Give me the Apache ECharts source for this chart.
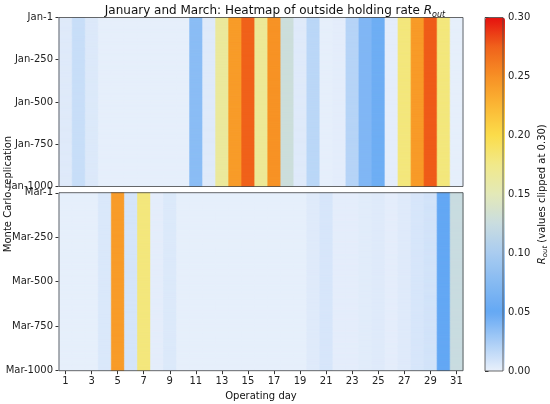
<!DOCTYPE html>
<html lang="en">
<head>
    <meta charset="UTF-8">
    <script src="https://cdn.jsdelivr.net/npm/echarts@6/dist/echarts.min.js"></script>
    <title>Heatmap of outside holding rate</title>
    <style>
        html, body {margin: 0; padding: 0; background: #fff;}
    </style>
</head>
<body>

<div id="ec" style="width:550px;height:404px;"></div>

<script>
    // operating days (x categories)
    var days = ['1', '2', '3', '4', '5', '6', '7', '8', '9', '10', '11', '12', '13', '14', '15', '16',
        '17', '18', '19', '20', '21', '22', '23', '24', '25', '26', '27', '28', '29', '30', '31'];

    // typical R_out per operating day
    var janRate = [0.004, 0.013, 0.005, 0.001, 0.001, 0.001, 0.001, 0.001, 0.001, 0.001,
        0.036, 0.004, 0.165, 0.242, 0.275, 0.168, 0.248, 0.128, 0.004, 0.018,
        0.001, 0.002, 0.020, 0.040, 0.046, 0.002, 0.180, 0.243, 0.277, 0.180, 0.001];
    var marRate = [0.001, 0.001, 0.001, 0.006, 0.242, 0.008, 0.180, 0.002, 0.005, 0.001,
        0.001, 0.001, 0.001, 0.001, 0.001, 0.001, 0.001, 0.001, 0.001, 0.004,
        0.007, 0.002, 0.002, 0.003, 0.004, 0.002, 0.004, 0.007, 0.009, 0.050, 0.125];

    var nRep = 1000;
    var repTicks = [1, 250, 500, 750, 1000];

    // colour stops every 0.025 from 0 to 0.30
    var cmap = ['#e9f0fb', '#a9cdf6', '#64a8f4', '#86baf2', '#a9ccf0', '#c9dce0', '#e3e9b8',
        '#f1e98a', '#fbdd4a', '#fbb735', '#f79025', '#f0621b', '#e6110f'];

    function repNames(m) {
        var a = [];
        for (var i = 1; i <= nRep; i++) a.push(m + '-' + i);
        return a;
    }

    function cells(rate) {
        var out = [];
        for (var r = 0; r < nRep; r++) {
            for (var d = 0; d < days.length; d++) {
                out.push([d, r, rate[d]]);
            }
        }
        return out;
    }

    function showRep(idx) {
        return repTicks.indexOf(idx + 1) >= 0;
    }

    var font = 'DejaVu Sans';
    var frame = {show: true, borderColor: '#444', borderWidth: 0.8, backgroundColor: 'transparent', z: 10};

    function repAxis(gi, m) {
        return {
            type: 'category', gridIndex: gi, data: repNames(m), inverse: true,
            axisLine: {show: false},
            axisTick: {show: true, interval: showRep, alignWithLabel: true, length: 3.5,
                lineStyle: {color: '#333'}},
            axisLabel: {interval: showRep, color: '#222', fontSize: 10, fontFamily: font, margin: 6},
            splitLine: {show: false}
        };
    }

    var myChart = echarts.init(document.getElementById('ec'));
    myChart.setOption({
        backgroundColor: '#fff',
        animation: false,
        title: {
            text: '{t|January and March: Heatmap of outside holding rate }{r|R}{s|out}',
            left: 'center', top: -2,
            textStyle: {
                fontWeight: 'normal',
                rich: {
                    t: {fontSize: 12, fontFamily: font, fontWeight: 'normal', color: '#111', lineHeight: 16},
                    r: {fontSize: 12, fontFamily: font, fontWeight: 'normal', fontStyle: 'italic',
                        color: '#111', lineHeight: 16},
                    s: {fontSize: 8, fontFamily: font, fontWeight: 'normal', fontStyle: 'italic',
                        color: '#111', verticalAlign: 'bottom', lineHeight: 10}
                }
            }
        },
        grid: [
            Object.assign({left: 59, top: 17.5, width: 404, height: 169}, frame),
            Object.assign({left: 59, top: 192.7, width: 404, height: 178}, frame),
            Object.assign({left: 485, top: 17.5, width: 20, height: 353.5}, frame)
        ],
        xAxis: [
            {type: 'category', gridIndex: 0, data: days, axisLine: {show: false},
                axisTick: {show: false}, axisLabel: {show: false}},
            {type: 'category', gridIndex: 1, data: days, axisLine: {show: false},
                axisTick: {show: true, interval: 1, alignWithLabel: true, length: 3.5,
                    lineStyle: {color: '#333'}},
                axisLabel: {interval: 1, color: '#222', fontSize: 10, fontFamily: font, margin: 6},
                name: 'Operating day', nameLocation: 'middle', nameGap: 21,
                nameTextStyle: {fontSize: 10, fontFamily: font, color: '#111'}},
            {type: 'value', gridIndex: 2, show: false}
        ],
        yAxis: [
            repAxis(0, 'Jan'),
            repAxis(1, 'Mar'),
            {type: 'value', gridIndex: 2, position: 'right', min: 0, max: 0.30, interval: 0.05,
                axisLine: {show: false},
                axisTick: {show: true, length: 3.5, lineStyle: {color: '#333'}},
                axisLabel: {color: '#222', fontSize: 10, fontFamily: font, margin: 5,
                    formatter: function (v) { return v.toFixed(2); }},
                splitLine: {show: false},
                name: '{r|R}{s|out}{t| (values clipped at 0.30)}',
                nameLocation: 'middle', nameRotate: 90, nameGap: 32,
                nameTextStyle: {
                    rich: {
                        t: {fontSize: 10, fontFamily: font, color: '#111', lineHeight: 14},
                        r: {fontSize: 10, fontFamily: font, fontStyle: 'italic', color: '#111', lineHeight: 14},
                        s: {fontSize: 7, fontFamily: font, fontStyle: 'italic', color: '#111',
                            verticalAlign: 'bottom', lineHeight: 8}
                    }
                }}
        ],
        visualMap: {
            type: 'continuous', min: 0, max: 0.30, seriesIndex: [0, 1],
            left: 485, top: 17.5, itemWidth: 20, itemHeight: 353.5, padding: 0,
            calculable: false, text: null, showLabel: false, hoverLink: false,
            inRange: {color: cmap}
        },
        graphic: [{
            type: 'text', x: 8, y: 194, rotation: Math.PI / 2,
            style: {text: 'Monte Carlo replication', fontSize: 10, fontFamily: font, fill: '#111',
                align: 'center', verticalAlign: 'middle'}
        }],
        series: [
            {type: 'heatmap', name: 'Jan', xAxisIndex: 0, yAxisIndex: 0, data: cells(janRate),
                progressive: 0, emphasis: {disabled: true}},
            {type: 'heatmap', name: 'Mar', xAxisIndex: 1, yAxisIndex: 1, data: cells(marRate),
                progressive: 0, emphasis: {disabled: true}}
        ]
    });
</script>

</body>
</html>
